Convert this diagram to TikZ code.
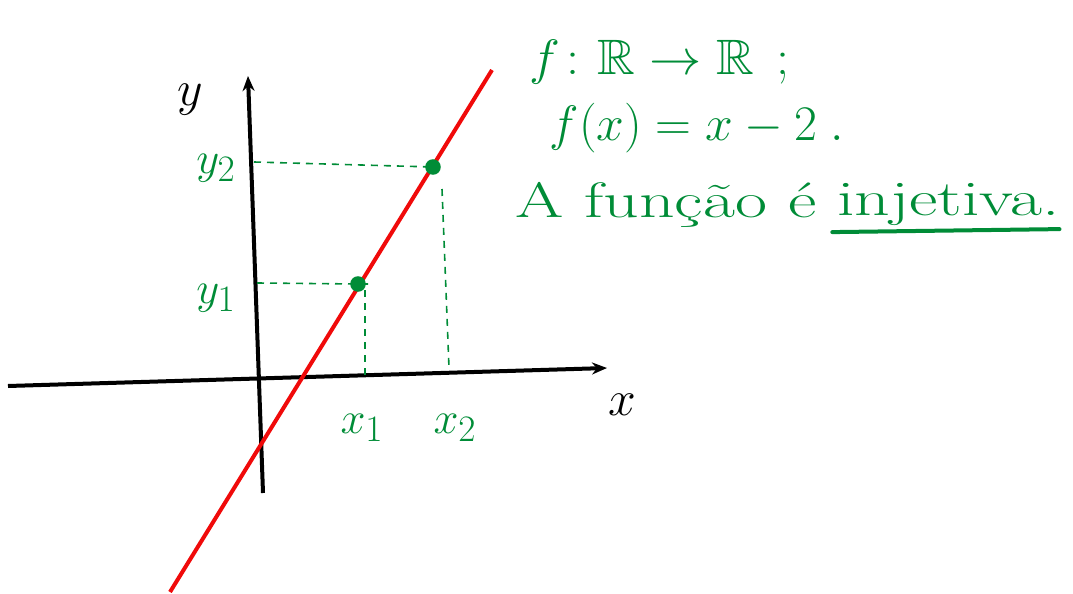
\documentclass[tikz,border=0pt]{standalone}
\usepackage{amsmath}
\usepackage{amssymb}
\usepackage[dvipsnames]{xcolor}
\usepackage{tikz}
\usetikzlibrary{arrows.meta}

\definecolor{pen}{RGB}{0,140,55}
\definecolor{line}{RGB}{240,10,10}

\begin{document}
\begin{tikzpicture}[x=1pt, y=-1pt]
    \useasboundingbox (0,0) rectangle (1073,594);
    \begin{scope}[every node/.style={inner sep=0, minimum size=0, outer sep=0, font=\Huge}, axis/.style={line width=4pt, -{Stealth[length=15pt, width=12pt]}}, guide/.style={pen, line width=1.6pt, dash pattern=on 7pt off 6pt}, mymark/.style={fill=pen, circle, inner sep=5.5pt}]
      % axes
      \coordinate (xs) at (8,386);
      \coordinate (xe) at (607,368);
      \coordinate (ys) at (263,493);
      \coordinate (ye) at (248,76);
      \draw [axis] (xs) -- (xe);
      \draw [axis] (ys) -- (ye);
      \node (ylab) at (190,100) {\scalebox{2}{$y$}};
      \node (xlab) at (622,405) {\scalebox{2}{$x$}};
      % graph of f
      \coordinate (lo) at (170,592);
      \coordinate (hi) at (492,70);
      \draw [line, line width=4pt] (lo) -- (hi);
      \node [mymark] (P1) at (358,284) {};
      \node [mymark] (P2) at (433,167) {};
      % projections
      \coordinate (a1) at (257,283);
      \coordinate (a2) at (254,162);
      \coordinate (b1) at (365,378);
      \coordinate (b2) at (449,368);
      \draw [guide] (a1) -- (P1.center) -- ++(14,0);
      \draw [guide] (P1.center) ++(7,6) -- (b1);
      \draw [guide] (a2) -- (P2.center);
      \draw [guide] (P2.center) ++(9,22) -- (b2);
      \foreach \n/\p/\t in {y2/{(216,168)}/y_2, y1/{(216,298)}/y_1, x1/{(362,428)}/x_1, x2/{(455,428)}/x_2} {
        \node [pen] (\n) at \p {\scalebox{1.8}{$\t$}};
      }
      % text
      \node [pen] (dom) at (660,62) {\scalebox{2.1}[2]{$f\colon\mathbb{R}\to\mathbb{R}\;\,;$}};
      \node [pen] (rule) at (697,128) {\scalebox{2.0}[2]{$f(x)=x-2\;.$}};
      \node [pen, anchor=west] (says) at (515,205) {\scalebox{2.8}[2]{A função é}};
      \node [pen, anchor=west] (inj) at (says.east) {\scalebox{2.8}[2]{\ injetiva.}};
      \draw [pen, line width=4pt, line cap=round] ([xshift=16pt,yshift=-6pt]inj.south west) -- ([yshift=-3pt]inj.south east);
    \end{scope}
\end{tikzpicture}
\end{document}
